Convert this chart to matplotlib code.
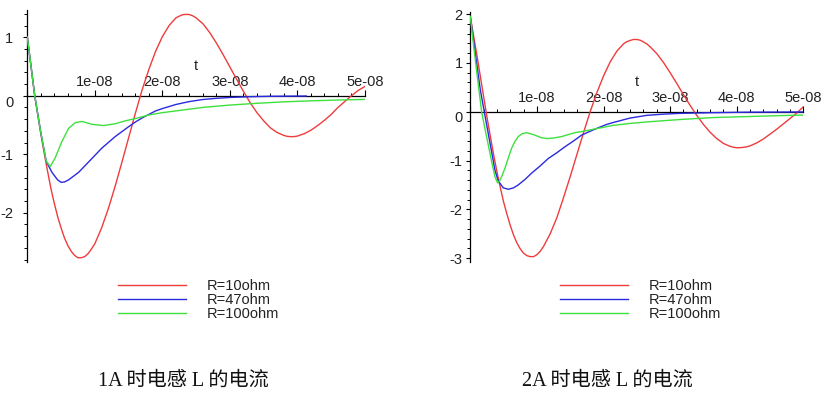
import matplotlib
matplotlib.use("Agg")
import numpy as np
import matplotlib.pyplot as plt
from matplotlib.ticker import MultipleLocator, FuncFormatter
from matplotlib.lines import Line2D

plt.rcParams['font.family'] = ['Liberation Sans', 'DejaVu Sans']
plt.rcParams['axes.unicode_minus'] = False

T_UNIT = 1e-8  # time values below are in units of 1e-08 s

# ---------------- left chart: 1A ----------------
left_red_t = [0, 0.05, 0.11, 0.2, 0.25, 0.3, 0.35, 0.4, 0.45, 0.5, 0.55, 0.6, 0.65, 0.7, 0.75,
              0.8, 0.85, 0.9, 0.95, 1.0, 1.1, 1.2, 1.3, 1.4, 1.5, 1.6, 1.7, 1.8, 1.9, 2.0,
              2.1, 2.2, 2.25, 2.3, 2.35, 2.4, 2.45, 2.5, 2.55, 2.6, 2.7, 2.8, 2.9, 3.0, 3.1,
              3.2, 3.3, 3.4, 3.5, 3.6, 3.7, 3.8, 3.85, 3.9, 3.95, 4.0, 4.1, 4.2, 4.3, 4.4,
              4.5, 4.6, 4.7, 4.8, 4.9, 5.0]
left_red_i = [1.0, 0.55, 0.0, -0.65, -0.98, -1.29, -1.59, -1.84, -2.07, -2.26, -2.43, -2.56,
              -2.66, -2.73, -2.77, -2.77, -2.75, -2.70, -2.62, -2.53, -2.26, -1.93, -1.55,
              -1.14, -0.72, -0.30, 0.10, 0.45, 0.76, 1.01, 1.20, 1.33, 1.36, 1.385, 1.39,
              1.387, 1.365, 1.33, 1.28, 1.23, 1.08, 0.90, 0.70, 0.49, 0.28, 0.075, -0.12,
              -0.29, -0.43, -0.55, -0.63, -0.68, -0.695, -0.70, -0.699, -0.69, -0.65, -0.59,
              -0.51, -0.42, -0.32, -0.20, -0.10, 0.0, 0.09, 0.16]

left_blue_t = [0, 0.05, 0.11, 0.2, 0.28, 0.36, 0.41, 0.45, 0.5, 0.55, 0.61, 0.76, 0.91, 1.1,
               1.3, 1.5, 1.6, 1.7, 1.8, 1.9, 2.0, 2.2, 2.4, 2.6, 2.8, 3.0, 3.3, 3.6, 4.13]
left_blue_i = [1.0, 0.55, 0.0, -0.63, -1.12, -1.30, -1.38, -1.44, -1.48, -1.475, -1.44, -1.31,
               -1.13, -0.90, -0.70, -0.53, -0.45, -0.38, -0.32, -0.26, -0.22, -0.15, -0.10,
               -0.065, -0.045, -0.03, -0.017, -0.01, -0.005]

left_green_t = [0, 0.05, 0.11, 0.2, 0.28, 0.34, 0.41, 0.51, 0.61, 0.71, 0.81, 0.96, 1.13, 1.3,
                1.45, 1.6, 1.8, 2.0, 2.2, 2.6, 3.0, 3.4, 3.8, 4.2, 4.6, 5.0]
left_green_i = [1.0, 0.55, 0.0, -0.63, -1.12, -1.21, -1.07, -0.79, -0.56, -0.46, -0.44, -0.49,
                -0.51, -0.48, -0.43, -0.39, -0.33, -0.29, -0.26, -0.20, -0.16, -0.13, -0.105,
                -0.088, -0.074, -0.063]

# ---------------- right chart: 2A ----------------
right_red_t = [0, 0.05, 0.1, 0.15, 0.2, 0.25, 0.3, 0.35, 0.4, 0.45, 0.5, 0.55, 0.6, 0.65, 0.7,
               0.75, 0.8, 0.85, 0.9, 0.95, 1.0, 1.05, 1.1, 1.2, 1.3, 1.4, 1.5, 1.6, 1.7, 1.8,
               1.9, 2.0, 2.1, 2.2, 2.3, 2.35, 2.4, 2.45, 2.5, 2.55, 2.6, 2.65, 2.7, 2.8, 2.9,
               3.0, 3.1, 3.2, 3.3, 3.4, 3.5, 3.6, 3.7, 3.8, 3.9, 3.95, 4.0, 4.05, 4.1, 4.15,
               4.2, 4.3, 4.4, 4.5, 4.6, 4.7, 4.8, 4.9, 5.0]
right_red_i = [1.95, 1.55, 1.15, 0.73, 0.31, -0.11, -0.50, -0.88, -1.23, -1.55, -1.85, -2.10,
               -2.33, -2.53, -2.69, -2.81, -2.90, -2.95, -2.97, -2.97, -2.93, -2.86, -2.76,
               -2.50, -2.17, -1.76, -1.33, -0.88, -0.43, 0.0, 0.39, 0.73, 1.02, 1.24, 1.39,
               1.435, 1.46, 1.48, 1.48, 1.465, 1.43, 1.39, 1.33, 1.19, 1.01, 0.80, 0.58, 0.35,
               0.13, -0.075, -0.26, -0.42, -0.55, -0.65, -0.71, -0.727, -0.74, -0.737, -0.73,
               -0.72, -0.70, -0.64, -0.56, -0.46, -0.36, -0.25, -0.14, -0.03, 0.10]

right_blue_t = [0, 0.05, 0.1, 0.15, 0.21, 0.27, 0.32, 0.37, 0.42, 0.495, 0.57, 0.65, 0.72,
                0.82, 0.92, 1.05, 1.17, 1.3, 1.42, 1.55, 1.67, 1.8, 1.92, 2.05, 2.15, 2.4,
                2.65, 2.9, 3.15, 3.65, 4.15, 5.0]
right_blue_i = [1.95, 1.45, 0.95, 0.45, 0.0, -0.45, -0.82, -1.20, -1.42, -1.56, -1.59, -1.56,
                -1.50, -1.39, -1.26, -1.11, -0.96, -0.84, -0.72, -0.60, -0.48, -0.40, -0.33,
                -0.26, -0.22, -0.13, -0.075, -0.05, -0.034, -0.02, -0.01, -0.005]

right_green_t = [0, 0.05, 0.1, 0.17, 0.22, 0.27, 0.32, 0.37, 0.41, 0.44, 0.48, 0.52, 0.57,
                 0.62, 0.67, 0.72, 0.78, 0.845, 0.97, 1.06, 1.145, 1.25, 1.37, 1.47, 1.57,
                 1.7, 1.92, 2.15, 2.4, 2.65, 3.15, 3.65, 4.15, 4.65, 5.0]
right_green_i = [1.95, 1.35, 0.78, 0.0, -0.35, -0.68, -1.02, -1.33, -1.46, -1.42, -1.30,
                 -1.16, -0.95, -0.75, -0.61, -0.51, -0.45, -0.43, -0.48, -0.53, -0.55, -0.54,
                 -0.51, -0.47, -0.43, -0.40, -0.34, -0.28, -0.24, -0.21, -0.16, -0.12, -0.10,
                 -0.08, -0.07]

series_labels = ["R=10ohm", "R=47ohm", "R=100ohm"]
series_colors = ["#ee3c3c", "#2a2ae0", "#3ee03e"]
captions = ["1A 时电感 L 的电流", "2A 时电感 L 的电流"]

W, H = 828, 396
fig = plt.figure(figsize=(W / 100, H / 100), dpi=100)


def px_axes(x0, x1, ytop, ybot):
    return fig.add_axes([x0 / W, 1 - ybot / H, (x1 - x0) / W, (ybot - ytop) / H])


def style_axes(ax, ylim, ylab_pad, zero_dy):
    ax.set_xlim(0, 5 * T_UNIT)
    ax.set_ylim(*ylim)
    ax.patch.set_visible(False)
    for s in ("top", "right"):
        ax.spines[s].set_visible(False)
    ax.spines["bottom"].set_position(("data", 0))
    ax.spines["left"].set_position(("data", 0))
    for s in ("bottom", "left"):
        ax.spines[s].set_linewidth(0.9)
        ax.spines[s].set_color("black")
    ax.xaxis.set_major_locator(MultipleLocator(T_UNIT))
    ax.xaxis.set_minor_locator(MultipleLocator(0.2 * T_UNIT))
    ax.yaxis.set_major_locator(MultipleLocator(1))
    ax.yaxis.set_minor_locator(MultipleLocator(0.2))
    ax.xaxis.set_major_formatter(FuncFormatter(lambda v, p: "" if abs(v) < 1e-14 else f"{v:.0e}"))
    ax.yaxis.set_major_formatter(FuncFormatter(lambda v, p: "" if abs(v) < 1e-9 else f"{int(round(v))}"))
    ax.tick_params(axis="x", which="major", direction="in", length=4, width=0.8,
                   labelsize=10.5, pad=-15, labelcolor="#222222")
    ax.tick_params(axis="x", which="minor", direction="in", length=2.5, width=0.7)
    ax.tick_params(axis="y", which="major", direction="out", length=3, width=0.8,
                   labelsize=10.5, pad=ylab_pad, labelcolor="#222222")
    ax.tick_params(axis="y", which="minor", direction="out", length=2, width=0.7)
    ax.annotate("0", xy=(0, 0), xycoords="data", xytext=(-(ylab_pad * 100 / 72 + 4), -zero_dy),
                textcoords="offset pixels", ha="right", va="center", fontsize=10.5,
                color="#222222")
    ax.annotate("t", xy=(0.5, 0), xycoords=("axes fraction", "data"), xytext=(0, 30),
                textcoords="offset pixels", ha="center", va="center", fontsize=10.5,
                color="#222222")


def draw(ax, ts, vs):
    lines = []
    for t, v, c, lab in zip(ts, vs, series_colors, series_labels):
        ln, = ax.plot(np.array(t) * T_UNIT, v, color=c, lw=1.0, label=lab, zorder=3,
                      solid_joinstyle="round")
        lines.append(ln)
    return lines


axL = px_axes(27.3, 365, 10, 262)
draw(axL, [left_red_t, left_blue_t, left_green_t], [left_red_i, left_blue_i, left_green_i])
style_axes(axL, ((95.7 - 262) / 58.5, (95.7 - 10) / 58.5), 7, 7)

axR = px_axes(470.3, 803.3, 12, 262)
draw(axR, [right_red_t, right_blue_t, right_green_t], [right_red_i, right_blue_i, right_green_i])
style_axes(axR, ((111.7 - 262) / 48.8, (111.7 - 12) / 48.8), 2.5, 6)

for xl in (118, 560):
    handles = [Line2D([], [], color=c, lw=1.0) for c in series_colors]
    fig.legend(handles, series_labels, loc="upper left",
               bbox_to_anchor=(xl / W, 1 - 279 / H), frameon=False, borderpad=0,
               borderaxespad=0, handlelength=4.65, handletextpad=1.45, labelspacing=0.0,
               fontsize=10.5, labelcolor="#222222")

for cx, cap in zip((183, 607), captions):
    fig.text(cx / W, 1 - 381 / H, cap, ha="center", va="center", fontsize=14.5,
             family=["Liberation Serif", "Noto Sans CJK SC"], color="#111111")

fig.savefig("out.png", dpi=100)
